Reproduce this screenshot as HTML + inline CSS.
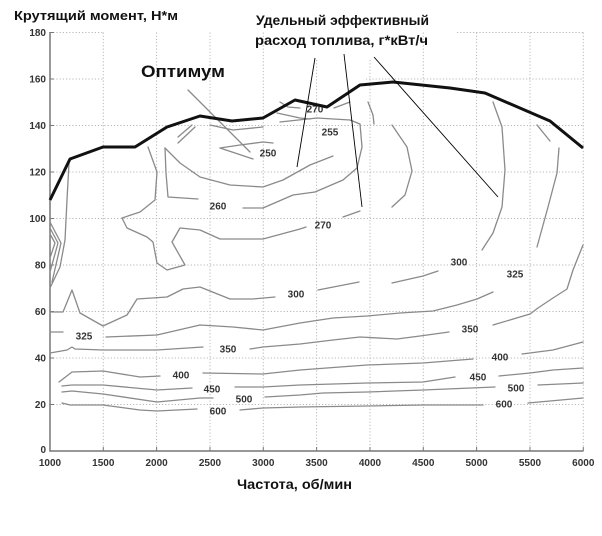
<!DOCTYPE html>
<html><head><meta charset="utf-8"><style>
html,body{margin:0;padding:0;background:#fff;}
svg{display:block;}
</style></head><body>
<svg width="602" height="536" viewBox="0 0 602 536" xmlns="http://www.w3.org/2000/svg">
<rect width="602" height="536" fill="#fff"/>
<!-- grid -->
<g stroke="#b8b8b8" stroke-width="1" stroke-dasharray="1.2,2" fill="none">
<line x1="103.3" y1="32.5" x2="103.3" y2="451"/>
<line x1="156.6" y1="32.5" x2="156.6" y2="451"/>
<line x1="210" y1="32.5" x2="210" y2="451"/>
<line x1="263.3" y1="32.5" x2="263.3" y2="451"/>
<line x1="316.6" y1="60" x2="316.6" y2="451"/>
<line x1="370" y1="60" x2="370" y2="451"/>
<line x1="423.3" y1="32.5" x2="423.3" y2="451"/>
<line x1="476.6" y1="32.5" x2="476.6" y2="451"/>
<line x1="530" y1="32.5" x2="530" y2="451"/>
<line x1="583.3" y1="32.5" x2="583.3" y2="451"/>
<line x1="50" y1="404.5" x2="583.3" y2="404.5"/>
<line x1="50" y1="358" x2="583.3" y2="358"/>
<line x1="50" y1="311.5" x2="583.3" y2="311.5"/>
<line x1="50" y1="265" x2="583.3" y2="265"/>
<line x1="50" y1="218.5" x2="583.3" y2="218.5"/>
<line x1="50" y1="172" x2="583.3" y2="172"/>
<line x1="50" y1="125.5" x2="583.3" y2="125.5"/>
<line x1="50" y1="79" x2="103" y2="79"/>
<line x1="366" y1="79" x2="583.3" y2="79"/>
<line x1="50" y1="32.5" x2="103" y2="32.5"/>
<line x1="457" y1="32.5" x2="583.3" y2="32.5"/>
</g>
<!-- axes -->
<g stroke="#777" stroke-width="1.5" fill="none">
<line x1="50" y1="32" x2="50" y2="451.5"/>
<line x1="49.3" y1="451" x2="583.5" y2="451"/>
</g>
<g stroke="#777" stroke-width="1" fill="none">
<line x1="103.3" y1="451" x2="103.3" y2="447"/><line x1="156.6" y1="451" x2="156.6" y2="447"/>
<line x1="210" y1="451" x2="210" y2="447"/><line x1="263.3" y1="451" x2="263.3" y2="447"/>
<line x1="316.6" y1="451" x2="316.6" y2="447"/><line x1="370" y1="451" x2="370" y2="447"/>
<line x1="423.3" y1="451" x2="423.3" y2="447"/><line x1="476.6" y1="451" x2="476.6" y2="447"/>
<line x1="530" y1="451" x2="530" y2="447"/><line x1="583.3" y1="451" x2="583.3" y2="447"/>
<line x1="50" y1="404.5" x2="54" y2="404.5"/><line x1="50" y1="358" x2="54" y2="358"/>
<line x1="50" y1="311.5" x2="54" y2="311.5"/><line x1="50" y1="265" x2="54" y2="265"/>
<line x1="50" y1="218.5" x2="54" y2="218.5"/><line x1="50" y1="172" x2="54" y2="172"/>
<line x1="50" y1="125.5" x2="54" y2="125.5"/><line x1="50" y1="79" x2="54" y2="79"/>
<line x1="50" y1="32.5" x2="54" y2="32.5"/>
</g>
<!-- tick labels -->
<g font-family="Liberation Sans, sans-serif" font-size="10" font-weight="bold" fill="#333" text-anchor="end">
<text x="46" y="36">180</text>
<text x="46" y="82.5">160</text>
<text x="46" y="129">140</text>
<text x="46" y="175.5">120</text>
<text x="46" y="222">100</text>
<text x="46" y="268.5">80</text>
<text x="46" y="315">60</text>
<text x="46" y="361.5">40</text>
<text x="46" y="408">20</text>
<text x="46" y="453">0</text>
</g>
<g font-family="Liberation Sans, sans-serif" font-size="10" font-weight="bold" fill="#333" text-anchor="middle">
<text x="50" y="466">1000</text>
<text x="103.3" y="466">1500</text>
<text x="156.6" y="466">2000</text>
<text x="210" y="466">2500</text>
<text x="263.3" y="466">3000</text>
<text x="316.6" y="466">3500</text>
<text x="370" y="466">4000</text>
<text x="423.3" y="466">4500</text>
<text x="476.6" y="466">5000</text>
<text x="530" y="466">5500</text>
<text x="583.3" y="466">6000</text>
</g>
<!-- contours -->
<g stroke="#8a8a8a" stroke-width="1.3" fill="none" stroke-linejoin="round" stroke-linecap="round">
<path d="M69,163 L67,200 L65,240 L60,267 L50,288"/>
<path d="M50,222 L61,243 L52,282"/>
<path d="M50,228 L58,243 L50,272"/>
<path d="M50,234 L55,243 L50,258"/>
<path d="M148,147 L157,172 L155,200 L140,212 L122,218 L127,228 L147,237 L153,242 L157,263 L167,270 L185,265 L172,242 L180,228 L200,230 L220,239 L263,239 L300,229 L306,227"/>
<path d="M343,217 L360,211"/>
<path d="M392,207 L405,195 L412,171 L407,147 L392,125"/>
<path d="M165,148 L166,173 L168,197 L198,199"/>
<path d="M165,148 L180,163 L200,177 L230,185 L263,187 L283,180 L310,165 L333,156"/>
<path d="M280,122 L317,118 L350,120 L360,124 L362,147 L357,168 L343,180 L315,192 L293,195 L263,208 L243,208"/>
<path d="M220,148 L253,159"/>
<path d="M220,148 L240,145 L263,142 L273,143"/>
<path d="M210,125 L233,130 L263,127"/>
<path d="M178,137 L192,125"/>
<path d="M178,143 L195,127"/>
<path d="M188,90 L250,152"/>
<path d="M280,102 L288,107 L300,108"/>
<path d="M277,113 L300,118 L310,119"/>
<path d="M334,108 L350,102"/>
<path d="M368,102 L373,115 L374,124"/>
<path d="M493,102 L502,127 L505,170 L502,207 L493,233 L482,250"/>
<path d="M559,148 L557,173 L548,207 L537,247"/>
<path d="M537,125 L550,141"/>
<path d="M583,245 L573,270 L567,289 L553,298 L538,308 L530,314 L493,325"/>
<path d="M449,332 L420,336 L397,339 L360,337 L333,340 L300,344 L263,347 L250,349"/>
<path d="M203,347 L157,350 L103,350 L75,349 L72,347 L67,350 L50,353"/>
<path d="M493,292 L477,299 L457,305 L433,311 L400,313 L367,316 L333,318 L300,323 L263,330 L233,327 L200,325 L157,335 L106,337"/>
<path d="M50,332 L63,332"/>
<path d="M438,271 L423,276 L392,283"/>
<path d="M359,282 L318,290"/>
<path d="M275,297 L253,299 L230,299 L200,287 L183,289 L167,297 L137,299 L127,315 L103,326 L80,313 L72,290 L63,312 L50,312"/>
<path d="M59,382 L72,372 L103,371 L140,377 L160,376"/>
<path d="M203,373 L263,374 L300,370 L367,365 L423,363 L473,359"/>
<path d="M522,354 L553,350 L583,342"/>
<path d="M62,386 L72,385 L103,385 L157,390 L192,388"/>
<path d="M235,387 L263,387 L300,385 L367,383 L423,382 L455,377"/>
<path d="M499,376 L530,373 L553,370 L583,368"/>
<path d="M62,392 L72,391 L103,394 L157,402 L200,398 L213,398"/>
<path d="M265,397 L300,395 L323,393 L367,392 L423,390 L495,387"/>
<path d="M538,385 L583,383"/>
<path d="M62,403 L70,405 L103,405 L140,410 L157,411 L197,409"/>
<path d="M240,410 L263,408 L300,407 L367,406 L423,405 L483,405"/>
<path d="M528,403 L583,398"/>
</g>
<!-- contour labels -->
<g font-family="Liberation Sans, sans-serif" font-size="10" font-weight="bold" fill="#333" text-anchor="middle">
<text x="268" y="156.5">250</text>
<text x="330" y="135.5">255</text>
<text x="315" y="112.5">270</text>
<text x="218" y="209.5">260</text>
<text x="323" y="228.5">270</text>
<text x="459" y="265.5">300</text>
<text x="296" y="297.5">300</text>
<text x="515" y="277.5">325</text>
<text x="84" y="339.5">325</text>
<text x="470" y="332.5">350</text>
<text x="228" y="352.5">350</text>
<text x="181" y="378.5">400</text>
<text x="500" y="360.5">400</text>
<text x="212" y="392.5">450</text>
<text x="478" y="380.5">450</text>
<text x="244" y="402.5">500</text>
<text x="516" y="391.5">500</text>
<text x="218" y="414.5">600</text>
<text x="504" y="407.5">600</text>
</g>
<!-- optimum line -->
<path d="M50,200 L70,159 L103,147 L135,147 L167,127 L200,116 L232,121 L263,118 L295,100 L327,107 L360,85 L393,82 L450,88 L485,93 L550,121 L583,148" stroke="#111" stroke-width="3" fill="none" stroke-linejoin="round"/>
<!-- pointer lines -->
<g stroke="#000" stroke-width="0.9" fill="none">
<line x1="315" y1="58" x2="297" y2="167"/>
<line x1="344" y1="54" x2="362" y2="207"/>
<line x1="374" y1="57" x2="498" y2="197"/>
</g>
<!-- titles -->
<g font-family="Liberation Sans, sans-serif" font-weight="bold" fill="#111">
<text x="14" y="20" font-size="13" textLength="164" lengthAdjust="spacingAndGlyphs">Крутящий момент, Н*м</text>
<text x="256" y="25" font-size="13.5" textLength="173" lengthAdjust="spacingAndGlyphs">Удельный эффективный</text>
<text x="255" y="45" font-size="13.5" textLength="173" lengthAdjust="spacingAndGlyphs">расход топлива, г*кВт/ч</text>
<text x="141" y="77" font-size="17" textLength="84" lengthAdjust="spacingAndGlyphs">Оптимум</text>
<text x="237" y="489" font-size="13.5" textLength="115" lengthAdjust="spacingAndGlyphs">Частота, об/мин</text>
</g>
</svg>
</body></html>
